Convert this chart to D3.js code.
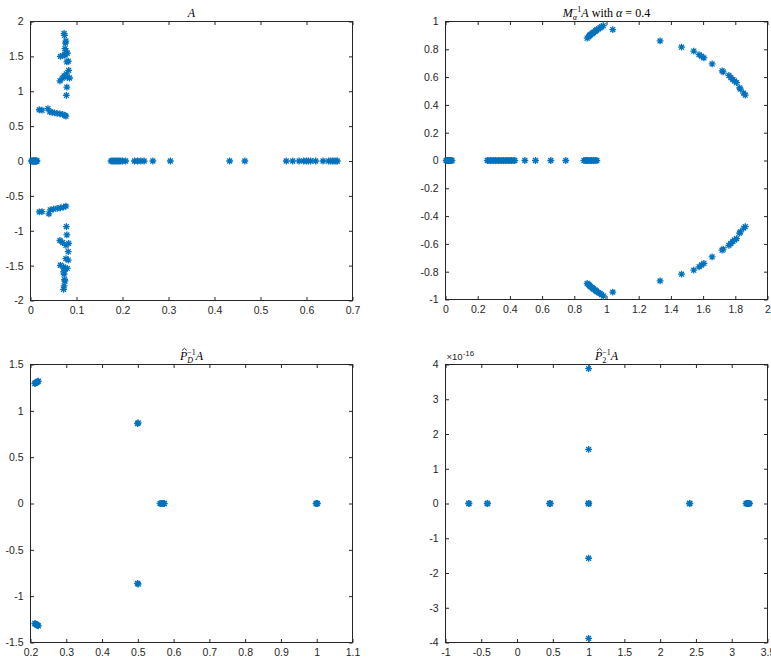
<!DOCTYPE html>
<html>
<head>
<meta charset="utf-8">
<script src="https://cdn.jsdelivr.net/npm/d3@7"></script>
<style>
  body { margin: 0; background: #fff; }
  svg { display: block; }
  .tick text { font-family: "Liberation Sans", Arial, sans-serif; font-size: 10.5px; fill: #262626; }
  .tick line { stroke: #262626; }
</style>
</head>
<body>
<svg id="chart" width="771" height="665"></svg>
<script>
// ---- data ----
// Panel A: spectrum of A
const aReal = [0.002, 0.004, 0.005, 0.006, 0.007, 0.008, 0.009, 0.010, 0.011, 0.012, 0.013, 0.014,
  0.175, 0.178, 0.181, 0.184, 0.187, 0.190, 0.193, 0.196, 0.200, 0.207, 0.226, 0.233, 0.240, 0.247,
  0.266, 0.304, 0.433, 0.466, 0.556, 0.570, 0.584, 0.594, 0.600, 0.604, 0.609, 0.620, 0.636,
  0.648, 0.652, 0.656, 0.660, 0.664, 0.667];
const aCplxRe = [0.019, 0.025, 0.038, 0.042, 0.047, 0.052, 0.058, 0.064, 0.070, 0.075, 0.077,
  0.078, 0.079, 0.064, 0.069, 0.073, 0.078, 0.080, 0.085, 0.083, 0.079, 0.082, 0.065, 0.070, 0.075,
  0.080, 0.077, 0.075, 0.076, 0.077, 0.074, 0.073,
  0.019, 0.025, 0.040, 0.043, 0.050, 0.058, 0.065, 0.072, 0.077,
  0.078, 0.079, 0.064, 0.070, 0.077, 0.083, 0.082, 0.077, 0.082, 0.065, 0.072, 0.080, 0.075,
  0.072, 0.073, 0.074, 0.075, 0.073, 0.072];
const aCplxIm = [0.735, 0.728, 0.752, 0.705, 0.697, 0.690, 0.684, 0.676, 0.668, 0.655, 0.643,
  0.94, 1.06, 1.15, 1.185, 1.22, 1.25, 1.20, 1.19, 1.30, 1.42, 1.43, 1.50, 1.51, 1.52,
  1.545, 1.58, 1.61, 1.69, 1.72, 1.80, 1.83,
  -0.730, -0.725, -0.757, -0.700, -0.690, -0.680, -0.672, -0.660, -0.647,
  -0.94, -1.06, -1.14, -1.17, -1.21, -1.18, -1.30, -1.40, -1.42, -1.495, -1.52, -1.54, -1.55,
  -1.59, -1.62, -1.70, -1.72, -1.79, -1.84];

// Panel B: M_alpha^{-1} A, alpha = 0.4
const bReal = [0.004, 0.008, 0.012, 0.016, 0.020, 0.024, 0.028, 0.032, 0.036, 0.040,
  0.26, 0.27, 0.28, 0.29, 0.30, 0.31, 0.32, 0.33, 0.34, 0.35, 0.36, 0.37, 0.38, 0.39, 0.40,
  0.41, 0.42, 0.43, 0.493, 0.559, 0.654, 0.747,
  0.86, 0.87, 0.875, 0.88, 0.89, 0.90, 0.905, 0.91, 0.92, 0.93, 0.94];
const bCplxRe = [0.88, 0.89, 0.895, 0.90, 0.91, 0.915, 0.92, 0.93, 0.935, 0.94, 0.95, 0.96, 0.97, 0.98,
  1.039, 1.333, 1.466, 1.542, 1.575, 1.590, 1.605, 1.656, 1.718, 1.725, 1.760, 1.772, 1.785,
  1.795, 1.808, 1.826, 1.832, 1.852, 1.862,
  0.88, 0.89, 0.895, 0.90, 0.91, 0.915, 0.92, 0.93, 0.935, 0.94, 0.95, 0.96, 0.97, 0.98,
  1.039, 1.333, 1.466, 1.542, 1.575, 1.590, 1.605, 1.656, 1.718, 1.725, 1.760, 1.772, 1.785,
  1.795, 1.808, 1.826, 1.832, 1.852, 1.862];
const bCplxIm = [0.88, 0.89, 0.90, 0.905, 0.912, 0.918, 0.922, 0.93, 0.935, 0.94, 0.947, 0.955, 0.962, 0.97,
  0.942, 0.860, 0.815, 0.787, 0.762, 0.750, 0.738, 0.695, 0.645, 0.637, 0.612, 0.596, 0.582,
  0.572, 0.560, 0.523, 0.513, 0.485, 0.470,
  -0.885, -0.892, -0.90, -0.907, -0.913, -0.92, -0.925, -0.932, -0.937, -0.943, -0.95, -0.957, -0.965, -0.975,
  -0.947, -0.866, -0.818, -0.789, -0.765, -0.752, -0.740, -0.694, -0.645, -0.638, -0.610, -0.597, -0.582,
  -0.572, -0.562, -0.522, -0.514, -0.486, -0.476];

// Panel C: P_D^{-1} A
const cReal = [0.562, 0.565, 0.568, 0.571, 0.574, 0.998, 1.0, 1.002];
const cCplxRe = [0.212, 0.214, 0.216, 0.218, 0.220, 0.222, 0.499, 0.501, 0.499, 0.501,
  0.212, 0.214, 0.216, 0.218, 0.220, 0.222];
const cCplxIm = [1.295, 1.300, 1.305, 1.310, 1.315, 1.320, 0.862, 0.870, -0.862, -0.870,
  -1.295, -1.300, -1.305, -1.310, -1.315, -1.320];

// Panel D: P_2^{-1} A (imaginary parts ~ 1e-16)
const dReal = [-0.676, -0.672, -0.416, -0.412, 0.455, 0.460, 0.465, 0.998, 1.0, 1.002, 2.410, 2.414,
  3.20, 3.21, 3.22, 3.23, 3.24, 3.25];
const dCplxRe = [1.0, 1.0, 1.0, 1.0];
const dCplxIm = [3.88e-16, 1.557e-16, -1.575e-16, -3.88e-16];

// tick values
const aXTicks = [0, 0.1, 0.2, 0.3, 0.4, 0.5, 0.6, 0.7];
const aYTicks = [-2, -1.5, -1, -0.5, 0, 0.5, 1, 1.5, 2];
const bXTicks = [0, 0.2, 0.4, 0.6, 0.8, 1, 1.2, 1.4, 1.6, 1.8, 2];
const bYTicks = [-1, -0.8, -0.6, -0.4, -0.2, 0, 0.2, 0.4, 0.6, 0.8, 1];
const cXTicks = [0.2, 0.3, 0.4, 0.5, 0.6, 0.7, 0.8, 0.9, 1, 1.1];
const cYTicks = [-1.5, -1, -0.5, 0, 0.5, 1, 1.5];
const dXTicks = [-1, -0.5, 0, 0.5, 1, 1.5, 2, 2.5, 3, 3.5];
const dYTicks = [-4e-16, -3e-16, -2e-16, -1e-16, 0, 1e-16, 2e-16, 3e-16, 4e-16];

// ---- drawing ----
const svg = d3.select('#chart');
const MARKER = '#0072BD';
const INK = '#262626';
const SERIF = '"Liberation Serif", "DejaVu Serif", serif';

function asterisk(r) {
    const d = r * 0.72;
    return `M${-r},0H${r}M0,${-r}V${r}M${-d},${-d}L${d},${d}M${-d},${d}L${d},${-d}`;
}

function toPoints(real, cre, cim) {
    return real.map((v) => [v, 0]).concat(cre.map((v, i) => [v, cim[i]]));
}

const fmt = (d) => String(+d.toFixed(2));

// title made of math pieces, laid out left to right then centred
function drawTitle(g, pieces, cx, baseline) {
    const t = g.append('g');
    let x = 0;
    let holdX = null;
    pieces.forEach((p) => {
        const startX = holdX !== null && p.stack ? holdX : x;
        const el = t.append('text')
            .attr('x', startX)
            .attr('y', p.dy || 0)
            .attr('font-family', SERIF)
            .attr('font-size', p.size || 12)
            .attr('font-style', p.italic ? 'italic' : 'normal')
            .attr('fill', '#000')
            .style('white-space', 'pre')
            .text(p.t);
        const w = el.node().getComputedTextLength();
        if (p.hat) {
            const hx = startX + w * 0.62;
            t.append('path')
                .attr('d', `M${hx - 2.4},-9L${hx},-11.2L${hx + 2.4},-9`)
                .attr('fill', 'none')
                .attr('stroke', '#000')
                .attr('stroke-width', 0.8);
        }
        if (p.hold) {
            holdX = startX;
            x = startX + w;
        } else if (p.stack) {
            x = Math.max(x, startX + w);
            holdX = null;
        } else {
            x = startX + w;
            holdX = null;
        }
    });
    t.attr('transform', `translate(${cx - x / 2},${baseline})`);
}

function drawPanel(cfg) {
    const g = svg.append('g').attr('transform', `translate(${cfg.left},${cfg.top})`);
    const x = d3.scaleLinear().domain(cfg.xDomain).range([0, cfg.width]);
    const y = d3.scaleLinear().domain(cfg.yDomain).range([cfg.height, 0]);
    const yFmt = cfg.yFmt || fmt;

    g.append('g')
        .attr('transform', `translate(0,${cfg.height})`)
        .call(d3.axisBottom(x).tickValues(cfg.xTicks).tickSizeInner(-3.5).tickSizeOuter(0)
            .tickPadding(6).tickFormat(fmt));
    g.append('g')
        .call(d3.axisTop(x).tickValues(cfg.xTicks).tickSizeInner(-3.5).tickSizeOuter(0).tickFormat(''));
    g.append('g')
        .call(d3.axisLeft(y).tickValues(cfg.yTicks).tickSizeInner(-3.5).tickSizeOuter(0)
            .tickPadding(7).tickFormat(yFmt));
    g.append('g')
        .attr('transform', `translate(${cfg.width},0)`)
        .call(d3.axisRight(y).tickValues(cfg.yTicks).tickSizeInner(-3.5).tickSizeOuter(0).tickFormat(''));
    g.selectAll('.domain').remove();

    g.append('rect')
        .attr('width', cfg.width)
        .attr('height', cfg.height)
        .attr('fill', 'none')
        .attr('stroke', INK)
        .attr('stroke-width', 1);

    g.append('g')
        .selectAll('path')
        .data(cfg.points)
        .join('path')
        .attr('transform', (d) => `translate(${x(d[0])},${y(d[1])})`)
        .attr('d', asterisk(3.4))
        .attr('fill', 'none')
        .attr('stroke', MARKER)
        .attr('stroke-width', 1.3);

    drawTitle(g, cfg.title, cfg.width / 2, -5);
    return g;
}

const W = 322;
drawPanel({
    left: 30.5, top: 21.5, width: W, height: 279,
    xDomain: [0, 0.7], yDomain: [-2, 2], xTicks: aXTicks, yTicks: aYTicks,
    points: toPoints(aReal, aCplxRe, aCplxIm),
    title: [{ t: 'A', italic: true }]
});
drawPanel({
    left: 445.5, top: 21.5, width: W, height: 278,
    xDomain: [0, 2], yDomain: [-1, 1], xTicks: bXTicks, yTicks: bYTicks,
    points: toPoints(bReal, bCplxRe, bCplxIm),
    title: [
        { t: 'M', italic: true },
        { t: 'α', italic: true, size: 8, dy: 3, hold: true },
        { t: '−1', size: 8, dy: -4.5, stack: true },
        { t: 'A', italic: true },
        { t: ' with ' },
        { t: 'α', italic: true },
        { t: ' = 0.4' }
    ]
});
drawPanel({
    left: 30.5, top: 364.5, width: W, height: 278,
    xDomain: [0.2, 1.1], yDomain: [-1.5, 1.5], xTicks: cXTicks, yTicks: cYTicks,
    points: toPoints(cReal, cCplxRe, cCplxIm),
    title: [
        { t: 'P', italic: true, hat: true },
        { t: 'D', italic: true, size: 8, dy: 3, hold: true },
        { t: '−1', size: 8, dy: -4.5, stack: true },
        { t: 'A', italic: true }
    ]
});
const pD = drawPanel({
    left: 445.5, top: 364.5, width: W, height: 278,
    xDomain: [-1, 3.5], yDomain: [-4e-16, 4e-16], xTicks: dXTicks, yTicks: dYTicks,
    yFmt: (d) => String(Math.round(d / 1e-16)),
    points: toPoints(dReal, dCplxRe, dCplxIm),
    title: [
        { t: 'P', italic: true, hat: true },
        { t: '2', size: 8, dy: 3, hold: true },
        { t: '−1', size: 8, dy: -4.5, stack: true },
        { t: 'A', italic: true }
    ]
});

// exponent label of panel D
const expo = pD.append('text')
    .attr('x', 1)
    .attr('y', -5)
    .attr('font-family', '"Liberation Sans", Arial, sans-serif')
    .attr('font-size', 9.5)
    .attr('fill', INK);
expo.append('tspan').text('×10');
expo.append('tspan').attr('dy', -4).attr('font-size', 8).text('-16');
</script>
</body>
</html>
